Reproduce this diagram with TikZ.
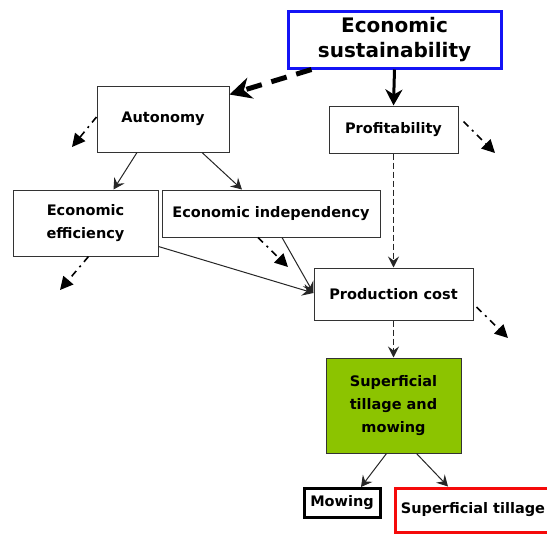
\documentclass[tikz,border=0pt]{standalone}
\usepackage{fontspec}
\setmainfont{DejaVu Sans}
\usetikzlibrary{arrows.meta}
\definecolor{boxgreen}{RGB}{140,196,0}
\definecolor{boxblue}{RGB}{20,20,245}
\definecolor{boxred}{RGB}{245,10,10}
\begin{document}
\begin{tikzpicture}[x=1pt,y=-1pt,
  box/.style={draw=black!80, line width=1pt, fill=white, inner sep=0pt, align=center,
    font=\bfseries\fontsize{14.5}{23}\selectfont},
  thin arrow/.style={draw=black!85, line width=1pt, -{Stealth[length=11pt,width=12pt,inset=4pt]}},
  dashdot arrow/.style={draw=black, line width=1.6pt, dash pattern=on 7pt off 5pt on 2pt off 5pt,
    -{Triangle[length=13pt,width=13pt]}},
  thin dashed/.style={draw=black!85, line width=1.2pt, dash pattern=on 6pt off 3pt,
    -{Stealth[length=11pt,width=11pt,inset=4pt]}}
]
\useasboundingbox (0,0) rectangle (547,536);
\clip (0,0) rectangle (547,536);

\node[box, draw=boxblue, line width=3pt, minimum width=213pt, minimum height=57pt,
  font=\bfseries\fontsize{20}{24.5}\selectfont] (es) at (394.5,39.5) {Economic\\sustainability};
\node[box, minimum width=132pt, minimum height=66pt] (aut) at (163,119) {Autonomy};
\node[box, minimum width=129pt, minimum height=47pt] (prof) at (393.5,129.5) {Profitability};
\node[box, minimum width=145pt, minimum height=66pt] (eff) at (85.5,223) {Economic\\efficiency};
\node[box, minimum width=218pt, minimum height=47pt] (ind) at (271,213.5) {Economic independency};
\node[box, minimum width=159pt, minimum height=52pt] (pc) at (393.5,294) {Production cost};
\node[box, fill=boxgreen, minimum width=135pt, minimum height=95pt] (stm) at (393.5,405.5)
  {Superficial\\tillage and\\mowing};
\node[box, draw=black, line width=3pt, minimum width=76pt, minimum height=29pt] (mow) at (342,503) {Mowing};
\node[box, draw=boxred, line width=3pt, minimum width=155pt, minimum height=44pt] (st) at (473,510) {Superficial tillage};

% free ends
\coordinate (autout) at (72,147);
\coordinate (profout) at (495,153);
\coordinate (effout) at (60,290);
\coordinate (indout) at (288,267);
\coordinate (pcout) at (508,338);

% thick arrows
\draw[line width=5pt, dash pattern=on 16pt off 10pt,
  -{Stealth[length=22pt,width=22pt,inset=7pt,line width=0pt]}]
  ([xshift=25pt]es.south west) -- ([yshift=-9pt]aut.north east);
\draw[line width=3pt, -{Stealth[length=16pt,width=17pt,inset=5pt]}]
  (es.south) -- (prof.north);

% dash-dot outgoing arrows
\draw[dashdot arrow] ([yshift=2pt]aut.west) -- (autout);
\draw[dashdot arrow] ([xshift=5pt,yshift=8pt]prof.east) -- (profout);
\draw[dashdot arrow] ([xshift=3pt]eff.south) -- (effout);
\draw[dashdot arrow] ([xshift=-13pt]ind.south) -- (indout);
\draw[dashdot arrow] ([xshift=3pt,yshift=-13pt]pc.east) -- (pcout);

% thin arrows
\draw[thin arrow] ([xshift=-26pt]aut.south) -- ([xshift=28pt]eff.north);
\draw[thin arrow] ([xshift=39pt]aut.south) -- ([xshift=-29pt]ind.north);
\draw[thin arrow] ([yshift=10pt]eff.south east) -- ([yshift=1pt]pc.west);
\draw[thin arrow] ([xshift=11pt]ind.south) -- ([yshift=1pt]pc.west);
\draw[thin dashed] (prof.south) -- (pc.north);
\draw[thin dashed] (pc.south) -- (stm.north);
\draw[thin arrow] ([xshift=-7pt]stm.south) -- ([xshift=19pt]mow.north);
\draw[thin arrow] ([xshift=23pt]stm.south) -- ([xshift=-25pt]st.north);
\end{tikzpicture}
\end{document}
